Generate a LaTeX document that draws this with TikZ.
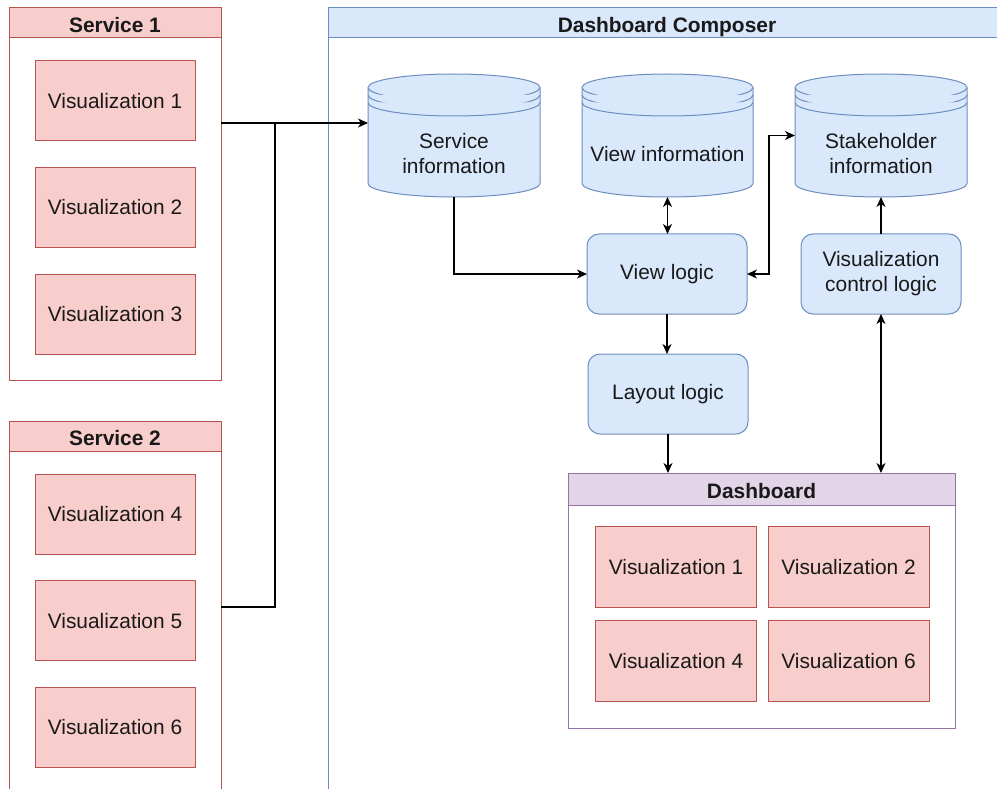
\documentclass[tikz,border=0pt]{standalone}
\usepackage{fontspec}
\setmainfont{Liberation Sans}
\usetikzlibrary{arrows.meta}

\definecolor{redF}{HTML}{F8CECC}
\definecolor{redS}{HTML}{B85450}
\definecolor{blueF}{HTML}{DAE8FC}
\definecolor{blueS}{HTML}{6C8EBF}
\definecolor{purpF}{HTML}{E1D5E7}
\definecolor{purpS}{HTML}{9673A6}

\newcommand\lblfont{\fontsize{20.9}{25}\selectfont}

% datastore outline drawn around a named (invisible) node; #2 = half width
\newcommand\dstore[2]{%
  \filldraw[dsline] ([yshift=-13.5pt]#1.north west) -- ([yshift=13.5pt]#1.south west)
    arc[start angle=180, end angle=360, x radius=#2, y radius=13.5pt]
    -- ([yshift=-13.5pt]#1.north east)
    arc[start angle=0, end angle=180, x radius=#2, y radius=13.5pt] -- cycle;
  \draw[dsline] ([yshift=-13.5pt]#1.north west)
    arc[start angle=180, end angle=360, x radius=#2, y radius=13.5pt];
  \draw[dsline] ([yshift=-21pt]#1.north west)
    arc[start angle=180, end angle=360, x radius=#2, y radius=13.5pt];
  \draw[dsline] ([yshift=-28.5pt]#1.north west)
    arc[start angle=180, end angle=360, x radius=#2, y radius=13.5pt];
}

\begin{document}
\begin{tikzpicture}[x=1pt, y=-1pt,
  every node/.style={inner sep=0pt, outer sep=0pt, font=\lblfont, align=center, text=black!90},
  viz/.style={draw=redS, fill=redF, line width=1pt, minimum width=160pt, minimum height=80pt},
  frame/.style={draw=#1, fill=white, line width=1pt},
  hdr/.style={draw=#1, line width=1pt, minimum height=30pt, anchor=north,
              text height=18.6pt, text depth=0pt, font=\lblfont\bfseries},
  logic/.style={draw=blueS, fill=blueF, line width=1pt, rounded corners=12pt,
                minimum width=160pt, minimum height=80pt},
  dsbox/.style={minimum width=#1, minimum height=123pt},
  dsline/.style={draw=blueS, fill=blueF, line width=1pt},
  tip/.style={},
  link/.style={draw=black, line width=1.2pt},
  conn/.style={link, -{Stealth[length=10pt, width=9pt, inset=3pt]}},
  biconn/.style={link, {Stealth[length=10pt, width=9pt, inset=3pt]}-{Stealth[length=10pt, width=9pt, inset=3pt]}}
]
\useasboundingbox (0,0) rectangle (997,789);
\clip (0,0) rectangle (997,789);
\fill[white] (0,0) rectangle (997,789);

% ---- Service 1 ----
\node[frame=redS, minimum width=212pt, minimum height=372pt] (s1) at (115,194) {};
\node[hdr=redS, fill=redF, minimum width=212pt] (s1h) at (s1.north) {Service 1};
\node[viz] (s1v1) at (115,101) {Visualization 1};
\node[viz] (s1v2) at (115,207.5) {Visualization 2};
\node[viz] (s1v3) at (115,314) {Visualization 3};

% ---- Service 2 ----
\node[frame=redS, minimum width=212pt, minimum height=389pt] (s2) at (115,615.5) {};
\node[hdr=redS, fill=redF, minimum width=212pt] (s2h) at (s2.north) {Service 2};
\node[viz] (s2v4) at (115,514) {Visualization 4};
\node[viz] (s2v5) at (115,620.7) {Visualization 5};
\node[viz] (s2v6) at (115,727) {Visualization 6};

% ---- Dashboard Composer ----
\node[frame=blueS, minimum width=678pt, minimum height=802pt] (comp) at (667,409) {};
\node[hdr=blueS, fill=blueF, minimum width=678pt] (comph) at (comp.north) {Dashboard Composer};

% data stores
\node[dsbox=172pt] (svcinfo) at (454,135.5) {};
\dstore{svcinfo}{86pt}
\node (svcinfo-t) at ([yshift=-18.5pt]svcinfo.center) {Service\\information};

\node[dsbox=171pt] (viewinfo) at (667.5,135.5) {};
\dstore{viewinfo}{85.5pt}
\node (viewinfo-t) at ([yshift=-18.5pt]viewinfo.center) {View information};

\node[dsbox=172pt] (stake) at (881,135.5) {};
\dstore{stake}{86pt}
\node (stake-t) at ([yshift=-18.5pt]stake.center) {Stakeholder\\information};

% logic blocks
\node[logic] (viewlogic) at (667,274) {View logic};
\node[logic] (vcl) at (881,274) {Visualization\\control logic};
\node[logic] (layout) at (668,394) {Layout logic};

% dashboard
\node[frame=purpS, minimum width=387pt, minimum height=255pt] (dash) at (761.5,600.5) {};
\node[hdr=purpS, fill=purpF, minimum width=387pt, minimum height=32pt] (dashh) at (dash.north) {Dashboard};
\node[viz, minimum width=161pt, minimum height=81pt] (dv1) at (676,567) {Visualization 1};
\node[viz, minimum width=161pt, minimum height=81pt] (dv2) at (848.5,567) {Visualization 2};
\node[viz, minimum width=161pt, minimum height=81pt] (dv4) at (676,661) {Visualization 4};
\node[viz, minimum width=161pt, minimum height=81pt] (dv6) at (848.5,661) {Visualization 6};

% ---- connectors ----
\coordinate (j1) at (275,123);
\coordinate (j2) at (275,607);
\coordinate (bend) at (769,0);

\draw[conn] (s1.east |- j1) -- (svcinfo.west |- j1);
\draw[link] (s2.east |- j2) -- (j2) -- (j1);
\draw[conn] (svcinfo.south) |- (viewlogic.west);
\draw[biconn] (viewinfo.south) -- (viewinfo.south |- viewlogic.north);
\draw[biconn] (stake.west) -| (bend |- viewlogic.east) -- (viewlogic.east);
\draw[conn] (vcl.north) -- (stake.south);
\draw[conn] (viewlogic.south) -- (viewlogic.south |- layout.north);
\draw[conn] (layout.south) -- (layout.south |- dash.north);
\draw[biconn] (vcl.south) -- (vcl.south |- dash.north);
\end{tikzpicture}
\end{document}
